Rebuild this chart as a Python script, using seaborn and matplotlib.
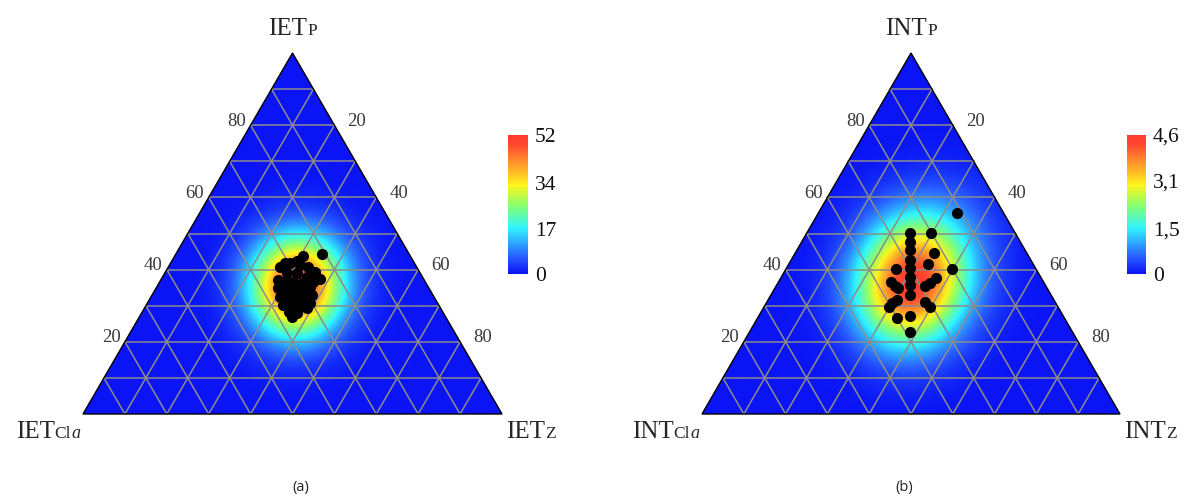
import numpy as np
import pandas as pd
import matplotlib
matplotlib.use('Agg')
import matplotlib.pyplot as plt
import seaborn as sns
from matplotlib.colors import LinearSegmentedColormap, Normalize
from matplotlib.cm import ScalarMappable
from matplotlib.patches import Polygon
from matplotlib.offsetbox import TextArea, HPacker, AnnotationBbox

# ternary composition (%) of each sample, panel (a)
iet_cla = [32.6, 29.7, 27.5, 25.8, 24.9, 24.9, 26.7, 27.6, 29.5, 31.9, 34.8, 33.5,
           31.5, 29.7, 28.2, 36.0, 34.2, 32.2, 30.5, 28.9, 36.7, 34.9, 32.9, 31.2,
           30.4, 37.1, 35.3, 33.3, 31.9, 36.8, 35.0, 36.8, 20.8, 25.5, 27.7, 30.9]
iet_p = [40.8, 41.7, 41.3, 40.8, 39.4, 37.3, 36.6, 38.0, 39.0, 39.0, 37.1, 36.6,
         36.6, 36.2, 35.3, 34.8, 34.3, 34.3, 33.9, 33.0, 32.5, 32.1, 32.1, 31.6,
         30.7, 30.2, 29.7, 29.7, 29.3, 28.3, 27.9, 26.8, 44.3, 43.8, 42.5, 41.7]
iet_z = [26.6, 28.6, 31.2, 33.4, 35.7, 37.8, 36.7, 34.4, 31.5, 29.1, 28.1, 29.9,
         31.9, 34.1, 36.5, 29.2, 31.5, 33.5, 35.6, 38.1, 30.8, 33.0, 35.0, 37.2,
         38.9, 32.7, 35.0, 37.0, 38.8, 34.9, 37.1, 36.4, 34.9, 30.7, 29.8, 27.4]

# panel (b)
int_cla = [11.3, 25.2, 20.2, 27.5, 22.1, 28.9, 25.1, 33.5, 30.0, 31.2, 20.1, 25.2,
           27.3, 28.9, 36.6, 36.1, 35.6, 32.4, 33.7, 37.6, 39.3, 40.4, 31.1, 30.6,
           40.1, 36.7, 38.8, 26.4]
int_p = [55.6, 50.1, 50.1, 45.4, 44.7, 42.7, 41.6, 40.1, 40.4, 38.0, 40.1, 37.6,
         36.4, 35.5, 36.6, 35.5, 34.8, 35.7, 33.0, 31.6, 30.7, 29.7, 31.1, 29.7,
         26.5, 27.1, 22.8, 47.6]
int_z = [33.1, 24.7, 29.7, 27.1, 33.2, 28.4, 33.3, 26.4, 29.6, 30.8, 39.8, 37.2,
         36.3, 35.6, 26.8, 28.4, 29.6, 31.9, 33.3, 30.8, 30.0, 29.9, 37.8, 39.7,
         33.4, 36.2, 38.4, 26.0]

edge_ticks = [20, 40, 60, 80]
iet_cbar_ticks = [0, 17, 34, 52]
iet_cbar_labels = ['0', '17', '34', '52']
int_cbar_ticks = [0, 1.5, 3.1, 4.6]
int_cbar_labels = ['0', '1,5', '3,1', '4,6']

iet_names = {'top': [('IET', 18, 'normal'), ('P', 12.5, 'normal')],
             'left': [('IET', 18, 'normal'), ('Cl', 12.5, 'normal'), ('a', 13, 'italic')],
             'right': [('IET', 18, 'normal'), ('Z', 12.5, 'normal')]}
int_names = {'top': [('INT', 18, 'normal'), ('P', 12.5, 'normal')],
             'left': [('INT', 18, 'normal'), ('Cl', 12.5, 'normal'), ('a', 13, 'italic')],
             'right': [('INT', 18, 'normal'), ('Z', 12.5, 'normal')]}

SERIF = ['Liberation Serif', 'DejaVu Serif']
H = np.sqrt(3) / 2

sns.set_theme(style='white')
plt.rcParams['font.family'] = SERIF

density_cmap = LinearSegmentedColormap.from_list('density', [
    (0.0, '#0a14f5'), (0.13, '#2a62ff'), (0.33, '#30f5ff'), (0.5, '#8cff6a'),
    (0.64, '#fff41c'), (0.79, '#ff9a2a'), (0.93, '#ff4a30'), (1.0, '#ff3a30')])


def ternary_xy(cla, p, z):
    cla, p, z = (np.asarray(v, dtype=float) for v in (cla, p, z))
    total = cla + p + z
    return (z + p / 2) / total * 100, p / total * 100 * H


def corner_label(ax, parts, xy, offset, align):
    areas = [TextArea(t, textprops=dict(fontsize=fs, family=SERIF, style=st, color='#262626'))
             for t, fs, st in parts]
    box = HPacker(children=areas, align='baseline', pad=0, sep=0)
    ab = AnnotationBbox(box, xy, xybox=offset, xycoords='data', boxcoords='offset points',
                        frameon=False, box_alignment=align, annotation_clip=False)
    ax.add_artist(ab)


def draw_panel(ax, cla, p, z, vmax, bw, names):
    df = pd.DataFrame({'Cla': cla, 'P': p, 'Z': z})
    df['x'], df['y'] = ternary_xy(df['Cla'], df['P'], df['Z'])

    ax.set_xlim(0, 100)
    ax.set_ylim(0, 100 * H)
    ax.axis('off')

    # smoothed density of the samples, scaled to the colour bar maximum
    gx, gy = np.meshgrid(np.linspace(0, 100, 500), np.linspace(0, 100 * H, 440))
    field = np.zeros_like(gx)
    for xi, yi in zip(df['x'], df['y']):
        field += np.exp(-((gx - xi) ** 2 + (gy - yi) ** 2) / (2 * bw ** 2))
    field = field / field.max() * vmax

    tri = Polygon([(0, 0), (100, 0), (50, 100 * H)], closed=True, facecolor='none',
                  edgecolor='black', linewidth=1.0, zorder=4, clip_on=False)
    ax.add_patch(tri)
    im = ax.imshow(field, origin='lower', extent=(0, 100, 0, 100 * H), cmap=density_cmap,
                   norm=Normalize(0, vmax), interpolation='bilinear', aspect='auto', zorder=1)
    im.set_clip_path(tri)

    # 10 % grid in the three directions
    for v in range(10, 100, 10):
        for a, b in [((100 - v, v, 0), (0, v, 100 - v)),
                     ((100 - v, 0, v), (0, 100 - v, v)),
                     ((v, 0, 100 - v), (v, 100 - v, 0))]:
            xs, ys = ternary_xy([a[0], b[0]], [a[1], b[1]], [a[2], b[2]])
            ax.plot(xs, ys, color='#8c8c8c', linewidth=1.1, zorder=3, clip_on=False)

    sns.scatterplot(data=df, x='x', y='y', color='black', s=64, linewidth=0,
                    ax=ax, zorder=5, legend=False, clip_on=False)

    for t in edge_ticks:
        lx, ly = ternary_xy(100 - t, t, 0)
        ax.annotate(str(t), (lx, ly), xytext=(-10, 3), textcoords='offset points',
                    ha='center', va='center', fontsize=13.5, color='#3a3a3a', family=SERIF)
        rx, ry = ternary_xy(0, 100 - t, t)
        ax.annotate(str(t), (rx, ry), xytext=(16, 3), textcoords='offset points',
                    ha='center', va='center', fontsize=13.5, color='#3a3a3a', family=SERIF)

    corner_label(ax, names['top'], (50, 100 * H), (0, 17), (0.5, 0.5))
    corner_label(ax, names['left'], (0, 0), (-2, -13), (1, 0.5))
    corner_label(ax, names['right'], (100, 0), (3, -13), (0, 0.5))


def draw_cbar(fig, rect, vmax, ticks, labels):
    cax = fig.add_axes(rect)
    cb = fig.colorbar(ScalarMappable(norm=Normalize(0, vmax), cmap=density_cmap), cax=cax, ticks=ticks)
    cb.outline.set_visible(False)
    cax.set_yticklabels(labels)
    cax.tick_params(length=0, pad=5, labelsize=15.5, labelcolor='#111111')
    for lab in cax.get_yticklabels():
        lab.set_family(SERIF)


W_PX, H_PX = 1191, 496
fig = plt.figure(figsize=(W_PX / 100, H_PX / 100), dpi=100)
fig.patch.set_facecolor('white')

ax_a = fig.add_axes([83 / W_PX, 82 / H_PX, 419 / W_PX, 361 / H_PX])
draw_panel(ax_a, iet_cla, iet_p, iet_z, vmax=52, bw=7.2, names=iet_names)
draw_cbar(fig, [508 / W_PX, 222 / H_PX, 20 / W_PX, 139 / H_PX], 52, iet_cbar_ticks, iet_cbar_labels)

ax_b = fig.add_axes([702 / W_PX, 82 / H_PX, 418 / W_PX, 361 / H_PX])
draw_panel(ax_b, int_cla, int_p, int_z, vmax=4.6, bw=8.3, names=int_names)
draw_cbar(fig, [1127 / W_PX, 222 / H_PX, 19 / W_PX, 139 / H_PX], 4.6, int_cbar_ticks, int_cbar_labels)

fig.text(301 / W_PX, 1 - 488 / H_PX, '(a)', ha='center', va='center', fontsize=10.5,
         family=['Open Sans', 'DejaVu Sans'], color='#222222')
fig.text(904 / W_PX, 1 - 488 / H_PX, '(b)', ha='center', va='center', fontsize=10.5,
         family=['Open Sans', 'DejaVu Sans'], color='#222222')

fig.savefig('out.png', dpi=100)
plt.close(fig)
